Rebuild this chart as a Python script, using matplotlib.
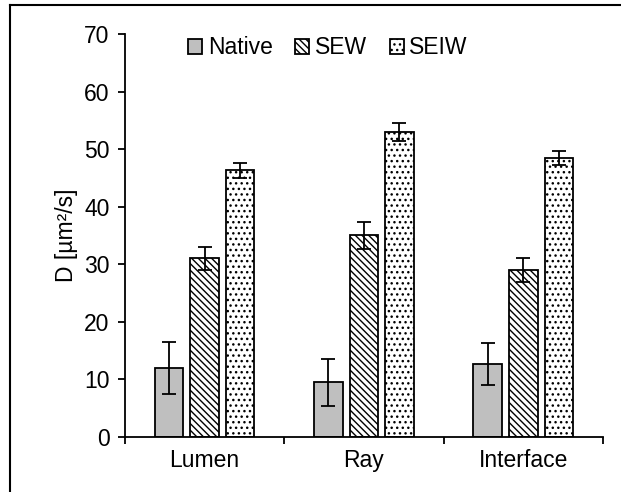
import numpy as np
import matplotlib
matplotlib.use('Agg')
import matplotlib.pyplot as plt
from matplotlib.lines import Line2D

plt.rcParams['font.family'] = ['Liberation Sans', 'DejaVu Sans']
plt.rcParams['hatch.linewidth'] = 1.0

categories = ['Lumen', 'Ray', 'Interface']
series = ['Native', 'SEW', 'SEIW']
native = [12.0, 9.5, 12.7]
sew = [31.0, 35.0, 29.0]
seiw = [46.3, 53.0, 48.5]
native_err = [4.5, 4.1, 3.6]
sew_err = [2.0, 2.4, 2.1]
seiw_err = [1.3, 1.6, 1.2]

values = [native, sew, seiw]
errors = [native_err, sew_err, seiw_err]
colors = ['#bfbfbf', 'white', 'white']
hatches = [None, '\\\\\\\\\\', '...']
fs = 16.5

fig = plt.figure(figsize=(6.21, 4.92), dpi=100)
ax = fig.add_axes([0.201, 0.112, 0.770, 0.819])

x = np.arange(len(categories))
w = 0.179
step = 0.223
for i, s in enumerate(series):
    ax.bar(x + (i - 1) * step, values[i], w, color=colors[i], edgecolor='black',
           linewidth=1.3, hatch=hatches[i], label=s,
           yerr=errors[i], capsize=5, error_kw=dict(elinewidth=1.3, capthick=1.3, ecolor='black'))

ax.set_xlim(-0.5, 2.5)
ax.set_ylim(0, 70)
ax.set_yticks(range(0, 71, 10))
ax.set_xticks([-0.5, 0.5, 1.5, 2.5])
ax.set_xticklabels([])
ax.set_xticks(x, minor=True)
ax.set_xticklabels(categories, minor=True)
ax.tick_params(axis='x', which='minor', length=0, pad=9, labelsize=fs)
ax.tick_params(axis='x', which='major', length=5, width=1.3, direction='out')
ax.tick_params(axis='y', length=5, width=1.3, direction='out', labelsize=fs, pad=6)
ax.spines['top'].set_visible(False)
ax.spines['right'].set_visible(False)
ax.spines['left'].set_linewidth(1.3)
ax.spines['bottom'].set_linewidth(1.3)
ax.set_ylabel('D [µm²/s]', fontsize=fs, labelpad=4)

ax.legend(loc='upper center', bbox_to_anchor=(0.425, 1.045), ncol=3, frameon=False,
          fontsize=fs, handlelength=0.6, handleheight=0.6, handletextpad=0.25,
          columnspacing=1.0)

# outer frame (left and top edges visible)
x0 = 10 / 621
y1 = 1 - 5 / 492
fig.add_artist(Line2D([x0, x0], [0, y1], transform=fig.transFigure, color='black', linewidth=1.5))
fig.add_artist(Line2D([x0, 1], [y1, y1], transform=fig.transFigure, color='black', linewidth=1.5))

fig.savefig('out.png', dpi=100)
